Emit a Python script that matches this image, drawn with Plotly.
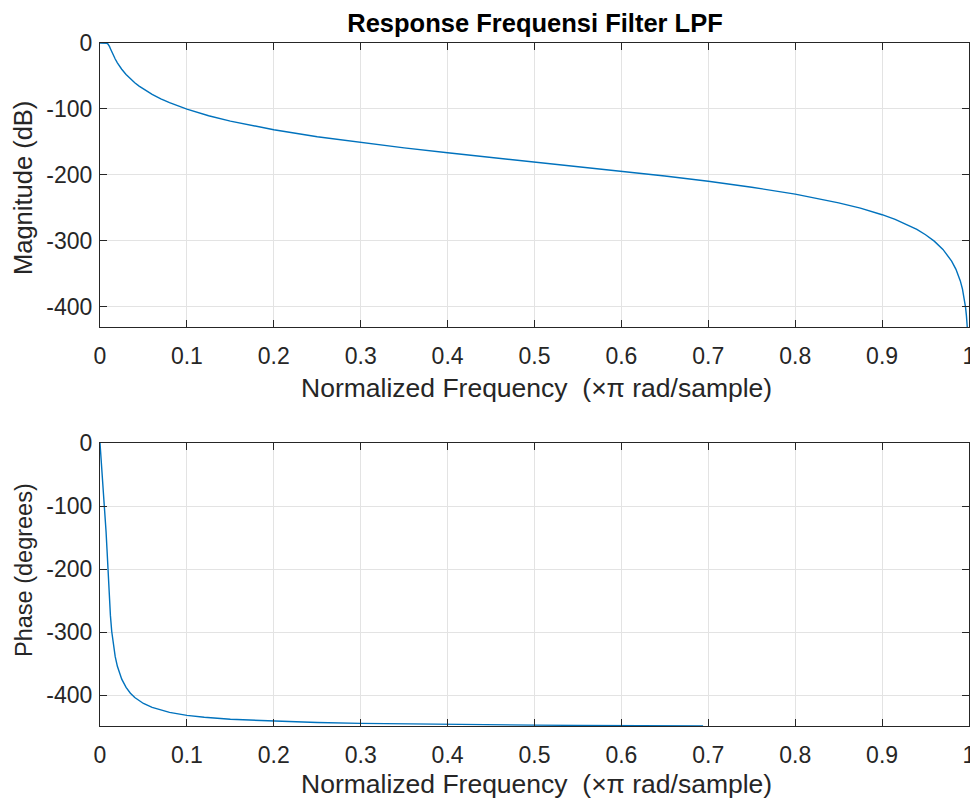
import plotly.graph_objects as go

# ---- data ----
mag_x = [0, 0.004, 0.006, 0.008, 0.009, 0.01, 0.011, 0.012, 0.013, 0.014, 0.015, 0.0175, 0.02, 0.0225,
         0.025, 0.03, 0.035, 0.04, 0.045, 0.05, 0.06, 0.07, 0.08, 0.1, 0.125, 0.15, 0.2, 0.25, 0.3,
         0.35, 0.4, 0.45, 0.5, 0.55, 0.6, 0.65, 0.7, 0.75, 0.8, 0.825, 0.85, 0.875, 0.9, 0.915,
         0.93, 0.94, 0.95, 0.96, 0.97, 0.98, 0.985, 0.99, 0.9925, 0.995, 0.996, 0.997, 0.998]
mag_db = [0, 0, -0.03, -0.44, -1.3, -3.0, -5.6, -8.6, -11.7, -14.8, -17.7, -24.3, -30.1, -35.2,
          -39.8, -47.7, -54.4, -60.3, -65.4, -70.0, -77.9, -84.7, -90.5, -100.4, -110.3, -118.4, -131.6, -142.1, -151.1,
          -159.1, -166.5, -173.5, -180.4, -187.2, -194.3, -201.7, -209.7, -218.7, -229.2, -235.3, -242.4, -250.5, -260.4, -267.6,
          -276.1, -282.8, -290.8, -300.5, -313.0, -330.7, -343.2, -360.8, -373.3, -390.9, -400.6, -413.1, -430.7]

ph_x = [0, 0.001, 0.002, 0.003, 0.004, 0.005, 0.006, 0.007, 0.008, 0.009, 0.01, 0.011, 0.012, 0.0135,
        0.015, 0.0175, 0.02, 0.0225, 0.025, 0.03, 0.035, 0.04, 0.045, 0.05, 0.06, 0.07, 0.08, 0.1,
        0.12, 0.15, 0.2, 0.25, 0.3, 0.35, 0.4, 0.45, 0.5, 0.55, 0.6, 0.65, 0.694]
ph_deg = [0, -18.6, -37.3, -56.3, -75.8, -96.1, -117.7, -141.1, -167.1, -195.7, -225.0, -251.6, -273.6, -298.7,
          -317.0, -338.7, -353.9, -365.3, -374.2, -387.3, -396.5, -403.3, -408.6, -412.8, -419.1, -423.6, -426.9, -431.6,
          -434.7, -437.9, -441.0, -443.0, -444.3, -445.2, -446.0, -446.6, -447.1, -447.5, -447.9, -448.2, -448.5]

x_ticks = [0, 0.1, 0.2, 0.3, 0.4, 0.5, 0.6, 0.7, 0.8, 0.9, 1]
x_tick_text = ["0", "0.1", "0.2", "0.3", "0.4", "0.5", "0.6", "0.7", "0.8", "0.9", "1"]
y_ticks = [0, -100, -200, -300, -400]
y_tick_text = ["0", "-100", "-200", "-300", "-400"]

title_text = "Response Frequensi Filter LPF"
x_label = "Normalized Frequency  (\u00d7\u03c0 rad/sample)"
mag_label = "Magnitude (dB)"
ph_label = "Phase (degrees)"

LINE = "#0072BD"
AX = "#262626"
GRID = "#e3e3e3"
FONT = "Liberation Sans, Arial, sans-serif"
TICK = 23
XLAB = 26.5

# page has an 8px body margin: figure is 970x795 so that it fills the 978x803 window
W, H = 970, 795
L, R, T, B = 92, 9, 35, 77
PW, PH = W - L - R, H - T - B


def px(fx):
    return (fx - L) / PW


def py(fy):
    return (H - B - fy) / PH


fig = go.Figure()
fig.add_trace(go.Scatter(x=mag_x, y=mag_db, mode="lines", line=dict(color=LINE, width=1.4),
                         xaxis="x", yaxis="y", showlegend=False))
fig.add_trace(go.Scatter(x=ph_x, y=ph_deg, mode="lines", line=dict(color=LINE, width=1.4),
                         xaxis="x2", yaxis="y2", showlegend=False))

common_x = dict(range=[0, 1], tickvals=x_ticks, ticktext=x_tick_text, showline=True, linecolor=AX,
                linewidth=1, mirror="ticks", ticks="inside", ticklen=7, tickcolor=AX,
                showgrid=True, gridcolor=GRID, gridwidth=1, zeroline=False, automargin=False,
                ticklabelstandoff=8, ticklabeloverflow="allow",
                tickfont=dict(size=TICK, color=AX, family=FONT))
common_y = dict(tickvals=y_ticks, ticktext=y_tick_text, showline=True, linecolor=AX, linewidth=1,
                mirror="ticks", ticks="inside", ticklen=7, automargin=False, ticklabelstandoff=2,
                ticklabeloverflow="allow",
                tickcolor=AX, showgrid=True, gridcolor=GRID, gridwidth=1, zeroline=False,
                tickfont=dict(size=TICK, color=AX, family=FONT))

d_top = [py(319), 1]
d_bot = [0, py(435)]

annotations = [
    dict(text=x_label, xref="paper", yref="paper", x=px(528.5), y=py(380), xanchor="center", yanchor="middle",
         showarrow=False, font=dict(size=XLAB, color=AX, family=FONT)),
    dict(text=x_label, xref="paper", yref="paper", x=px(528.5), y=py(776), xanchor="center", yanchor="middle",
         showarrow=False, font=dict(size=XLAB, color=AX, family=FONT)),
    dict(text=mag_label, xref="paper", yref="paper", x=px(15), y=py(180), xanchor="center", yanchor="middle",
         textangle=-90, showarrow=False, font=dict(size=25.5, color=AX, family=FONT)),
    dict(text=ph_label, xref="paper", yref="paper", x=px(16), y=py(562), xanchor="center", yanchor="middle",
         textangle=-90, showarrow=False, font=dict(size=23.5, color=AX, family=FONT)),
]

fig.update_layout(
    width=W, height=H,
    margin=dict(l=L, r=R, t=T, b=B),
    plot_bgcolor="white", paper_bgcolor="white",
    font=dict(family=FONT, color=AX),
    title=dict(text="<b>" + title_text + "</b>", x=527 / W, xanchor="center",
               y=1 - 15 / H, yanchor="middle", font=dict(size=25.5, color="black", family=FONT)),
    xaxis=dict(domain=[0, 1], anchor="y", **common_x),
    yaxis=dict(domain=d_top, anchor="x", range=[-430.7, 0], **common_y),
    xaxis2=dict(domain=[0, 1], anchor="y2", **common_x),
    yaxis2=dict(domain=d_bot, anchor="x2", range=[-448.5, 0], **common_y),
    annotations=annotations,
)

fig.write_html("out.html")
